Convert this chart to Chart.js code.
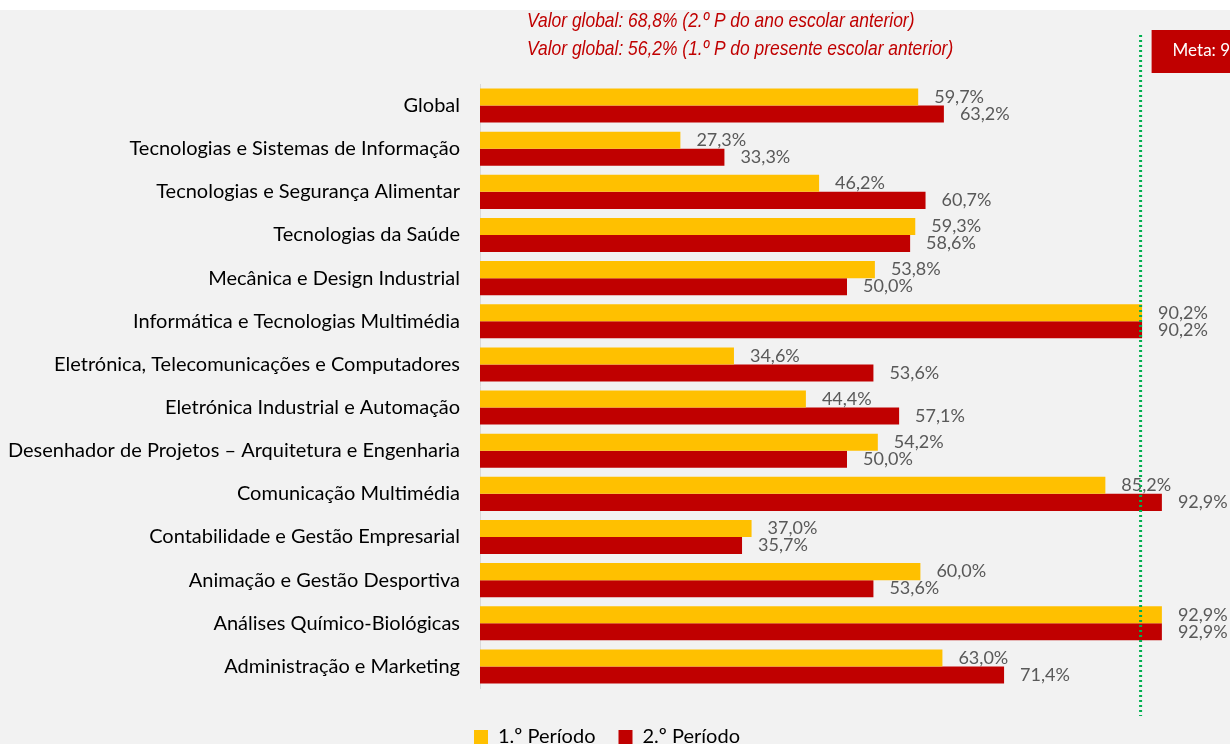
<!DOCTYPE html>
<html>
<head>
<meta charset="utf-8">
<script src="https://cdn.jsdelivr.net/npm/chart.js@4/dist/chart.umd.min.js"></script>
<style>
  html, body { margin: 0; padding: 0; background: #fff; }
  canvas { display: block; }
</style>
</head>
<body>
<canvas id="the-graph" width="1230" height="744"></canvas>
<script>
var courses = [
  "Global",
  "Tecnologias e Sistemas de Informação",
  "Tecnologias e Segurança Alimentar",
  "Tecnologias da Saúde",
  "Mecânica e Design Industrial",
  "Informática e Tecnologias Multimédia",
  "Eletrónica, Telecomunicações e Computadores",
  "Eletrónica Industrial e Automação",
  "Desenhador de Projetos – Arquitetura e Engenharia",
  "Comunicação Multimédia",
  "Contabilidade e Gestão Empresarial",
  "Animação e Gestão Desportiva",
  "Análises Químico-Biológicas",
  "Administração e Marketing"
];
var periodo1 = [59.7, 27.3, 46.2, 59.3, 53.8, 90.2, 34.6, 44.4, 54.2, 85.2, 37.0, 60.0, 92.9, 63.0];
var periodo2 = [63.2, 33.3, 60.7, 58.6, 50.0, 90.2, 53.6, 57.1, 50.0, 92.9, 35.7, 53.6, 92.9, 71.4];
var seriesNames = ["1.º Período", "2.º Período"];
var meta = 90;
var notes = [
  "Valor global: 68,8% (2.º P do ano escolar anterior)",
  "Valor global: 56,2% (1.º P do presente escolar anterior)"
];

var YELLOW = "#ffc000", RED = "#c00000";
var FONT = "Lato, 'Open Sans', sans-serif";

function pct(v) {
  return v.toFixed(1).replace(".", ",") + "%";
}

// background: thin white strip on top, light grey below
var background = {
  id: "background",
  beforeDraw: function (chart) {
    var ctx = chart.ctx;
    ctx.save();
    ctx.fillStyle = "#ffffff";
    ctx.fillRect(0, 0, chart.width, chart.height);
    ctx.fillStyle = "#f2f2f2";
    ctx.fillRect(0, 10, chart.width, chart.height - 10);
    ctx.restore();
  }
};

// value labels, target line, notes
var extras = {
  id: "extras",
  afterDatasetsDraw: function (chart) {
    var ctx = chart.ctx;
    ctx.save();
    ctx.font = "18px " + FONT;
    ctx.fillStyle = "#595959";
    ctx.textBaseline = "middle";
    ctx.textAlign = "left";
    chart.data.datasets.forEach(function (ds, i) {
      chart.getDatasetMeta(i).data.forEach(function (bar, j) {
        ctx.fillText(pct(ds.data[j]), bar.x + 16, bar.y);
      });
    });

    var x = chart.scales.x.getPixelForValue(meta);
    ctx.strokeStyle = "#00b050";
    ctx.lineWidth = 3;
    ctx.setLineDash([2, 3]);
    ctx.beginPath();
    ctx.moveTo(x, 35);
    ctx.lineTo(x, 716);
    ctx.stroke();
    ctx.setLineDash([]);

    ctx.fillStyle = RED;
    ctx.fillRect(x + 11, 30, 120, 43);
    ctx.fillStyle = "#ffffff";
    ctx.font = "17px " + FONT;
    ctx.fillText("Meta: " + meta + "%", x + 32, 51);

    // narrow italic notes (Arial Narrow look)
    ctx.fillStyle = RED;
    ctx.font = "italic 21px 'Liberation Sans', Arial, sans-serif";
    ctx.translate(527, 0);
    ctx.scale(0.83, 1);
    ctx.fillText(notes[0], 0, 21);
    ctx.fillText(notes[1], 0, 49);
    ctx.restore();
  }
};

var chart = new Chart(document.getElementById("the-graph"), {
  type: "bar",
  data: {
    labels: courses,
    datasets: [
      { label: seriesNames[0], data: periodo1, backgroundColor: YELLOW },
      { label: seriesNames[1], data: periodo2, backgroundColor: RED }
    ]
  },
  options: {
    indexAxis: "y",
    responsive: false,
    animation: false,
    devicePixelRatio: 1,
    categoryPercentage: 0.79,
    barPercentage: 1,
    layout: { padding: { top: 84, right: 16, left: 0, bottom: 0 } },
    scales: {
      x: {
        min: 0, max: 100,
        display: true,
        ticks: { display: false },
        grid: { display: false },
        border: { display: false },
        afterFit: function (s) { s.height = 16; }
      },
      y: {
        grid: { display: false, drawTicks: false },
        border: { display: true, color: "#d9d9d9", width: 1 },
        ticks: { color: "#000", padding: 20, font: { family: FONT, size: 20 } },
        afterFit: function (s) { s.width = 480; }
      }
    },
    plugins: {
      tooltip: { enabled: false },
      legend: {
        position: "bottom",
        maxHeight: 40,
        labels: {
          color: "#000",
          boxWidth: 14,
          boxHeight: 14,
          padding: 23,
          font: { family: FONT, size: 20 }
        }
      }
    }
  },
  plugins: [background, extras]
});
</script>
</body>
</html>
